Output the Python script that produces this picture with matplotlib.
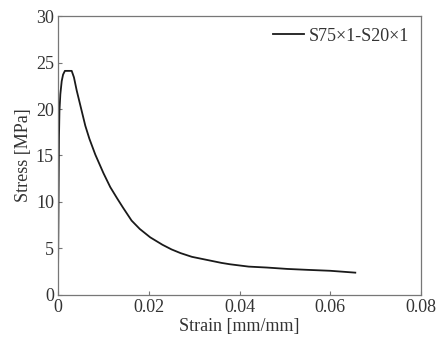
import numpy as np
import matplotlib
matplotlib.use('Agg')
import matplotlib.pyplot as plt

# stress-strain curve
strain = [0.0, 0.0001, 0.0002, 0.0003, 0.0005, 0.0008, 0.0011, 0.0015, 0.0030,
          0.0035, 0.0041, 0.0052, 0.0060, 0.0069, 0.0082, 0.0100, 0.0115,
          0.0130, 0.0143, 0.0162, 0.0180, 0.0203, 0.0230, 0.0250, 0.0270,
          0.0295, 0.0320, 0.0340, 0.0360, 0.0379, 0.0420, 0.0460, 0.0505,
          0.0550, 0.0600, 0.0655]
stress = [2.9, 10.0, 17.0, 19.8, 21.6, 23.0, 23.7, 24.1, 24.1,
          23.4, 22.0, 19.8, 18.2, 16.8, 15.1, 13.1, 11.6,
          10.4, 9.4, 8.0, 7.1, 6.2, 5.4, 4.9, 4.5,
          4.1, 3.85, 3.65, 3.45, 3.3, 3.05, 2.95, 2.8,
          2.7, 2.6, 2.4]
series_label = 'S75\u00d71-S20\u00d71'

x_ticks = [0, 0.02, 0.04, 0.06, 0.08]
x_tick_labels = ['0', '0.02', '0.04', '0.06', '0.08']
y_ticks = [0, 5, 10, 15, 20, 25, 30]

plt.rcParams.update({
    'font.family': ['Liberation Serif', 'DejaVu Serif'],
    'font.size': 13,
    'axes.edgecolor': '#777777',
    'axes.linewidth': 0.9,
})

fig = plt.figure(figsize=(4.4, 3.41), dpi=100)
ax = fig.add_axes([0.132, 0.135, 0.825, 0.818])

ax.plot(strain, stress, color='#1a1a1a', lw=1.3, label=series_label)

ax.set_xlim(0, 0.08)
ax.set_ylim(0, 30)
ax.set_xticks(x_ticks)
ax.set_xticklabels(x_tick_labels)
ax.set_yticks(y_ticks)
ax.tick_params(direction='in', length=3, width=0.8, color='#777777',
               labelsize=13, labelcolor='#333333', pad=3)
ax.set_xlabel('Strain [mm/mm]', fontsize=13, color='#333333', labelpad=1)
ax.set_ylabel('Stress [MPa]', fontsize=13, color='#333333', labelpad=3)

leg = ax.legend(loc='upper right', frameon=False, fontsize=13,
                handlelength=1.7, handletextpad=0.3, borderaxespad=0.25)
for t in leg.get_texts():
    t.set_color('#333333')

fig.savefig('out.png', dpi=100)
